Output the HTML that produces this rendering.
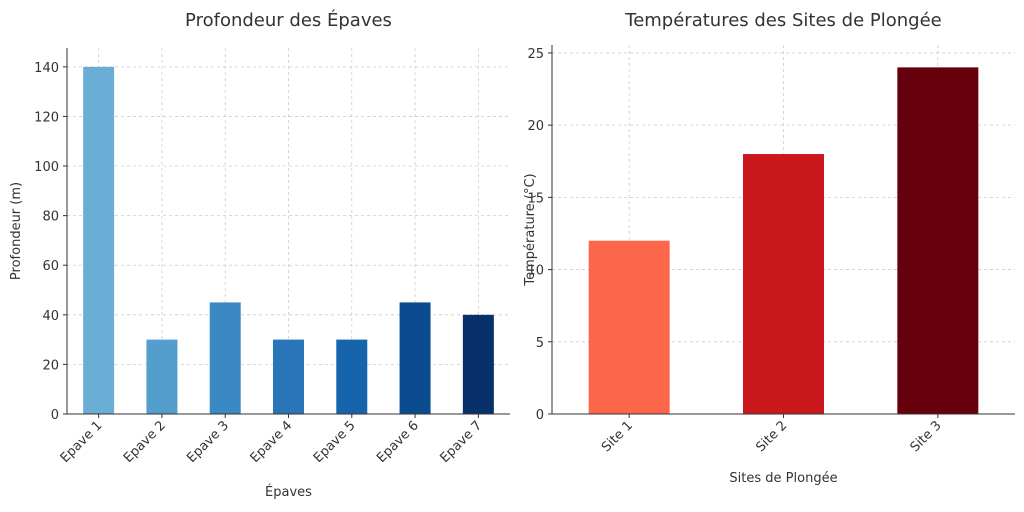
<!DOCTYPE html>
<html><head><meta charset="utf-8"><style>
body{margin:0;background:#fff;font-family:"Liberation Sans","DejaVu Sans",sans-serif}
text{font-family:"DejaVu Sans","Liberation Sans",sans-serif;fill:#333}
</style></head><body>
<svg id="c" width="1024" height="507"></svg>
<script>
const wrecks=["Epave 1","Epave 2","Epave 3","Epave 4","Epave 5","Epave 6","Epave 7"];
const depths=[140,30,45,30,30,45,40];
const depthTicks=[0,20,40,60,80,100,120,140];
const sites=["Site 1","Site 2","Site 3"];
const temps=[12,18,24];
const tempTicks=[0,5,10,15,20,25];
const blues=["#6aaed6","#539ecd","#3a89c4","#2a75b7","#1664ab","#0b4c91","#08306b"];
const reds=["#fc674c","#cb181d","#67000d"];
const svg=document.getElementById('c');
const NS="http://www.w3.org/2000/svg";
function mk(tag,attrs,parent){const e=document.createElementNS(NS,tag);for(const k in attrs)e.setAttribute(k,attrs[k]);(parent||svg).appendChild(e);return e;}
function panel(o){
  const g=mk('g',{});
  
  
  const y=v=>o.bottom-(v/o.ymax)*(o.bottom-o.top);
  const n=o.cats.length, step=(o.right-o.left)/n;
  const x=i=>o.left+step*(i+0.5);
  o.ticks.forEach(t=>{
    const l=mk('line',{x1:o.left,x2:o.right,y1:y(t),y2:y(t),stroke:'#ccc','stroke-dasharray':'3,3','stroke-width':0.8},g);
    
    
    const tk=mk('line',{x1:o.left-4,x2:o.left,y1:y(t),y2:y(t),stroke:'#333'},g);
    const tx=mk('text',{x:o.left-8,y:y(t)+5,'text-anchor':'end','font-size':13},g);
    tx.textContent=t;
    
    
  });
  o.cats.forEach((c,i)=>{
    const l=mk('line',{x1:x(i),x2:x(i),y1:o.top,y2:o.bottom,stroke:'#ccc','stroke-dasharray':'3,3','stroke-width':0.8},g);
    
    
    const r=mk('rect',{x:x(i)-o.bw/2,y:y(o.vals[i]),width:o.bw,height:o.bottom-y(o.vals[i]),fill:o.colors[i]},g);
    
    
    mk('line',{x1:x(i),x2:x(i),y1:o.bottom,y2:o.bottom+4,stroke:'#333'},g);
    const tx=mk('text',{x:x(i)+4,y:o.bottom+12,'text-anchor':'end','font-size':13,transform:`rotate(-45 ${x(i)+4} ${o.bottom+12})`},g);
    tx.textContent=c;
    
    
  });
  mk('line',{x1:o.left,x2:o.left,y1:o.top,y2:o.bottom,stroke:'#333','stroke-width':1},g);
  mk('line',{x1:o.left,x2:o.right,y1:o.bottom,y2:o.bottom,stroke:'#333','stroke-width':1},g);
  const t=mk('text',{x:(o.left+o.right)/2,y:26,'text-anchor':'middle','font-size':18},g);
  t.textContent=o.title;
  const xl=mk('text',{x:(o.left+o.right)/2,y:o.xly,'text-anchor':'middle','font-size':13},g);
  xl.textContent=o.xlabel;
  const cy=(o.top+o.bottom)/2;
  const yl=mk('text',{x:o.ylx,y:cy,'text-anchor':'middle','font-size':13,transform:`rotate(-90 ${o.ylx} ${cy})`},g);
  yl.textContent=o.ylabel;
}
panel({name:'depth-chart',cats:wrecks,vals:depths,colors:blues,ticks:depthTicks,left:67,right:510,top:48,bottom:414,ymax:147.6,bw:31,title:'Profondeur des Épaves',xlabel:'Épaves',ylabel:'Profondeur (m)',xly:496,ylx:20});
panel({name:'temperature-chart',cats:sites,vals:temps,colors:reds,ticks:tempTicks,left:552,right:1015,top:45,bottom:414,ymax:25.55,bw:81,title:'Températures des Sites de Plongée',xlabel:'Sites de Plongée',ylabel:'Température (°C)',xly:482,ylx:534});
</script>
</body></html>
